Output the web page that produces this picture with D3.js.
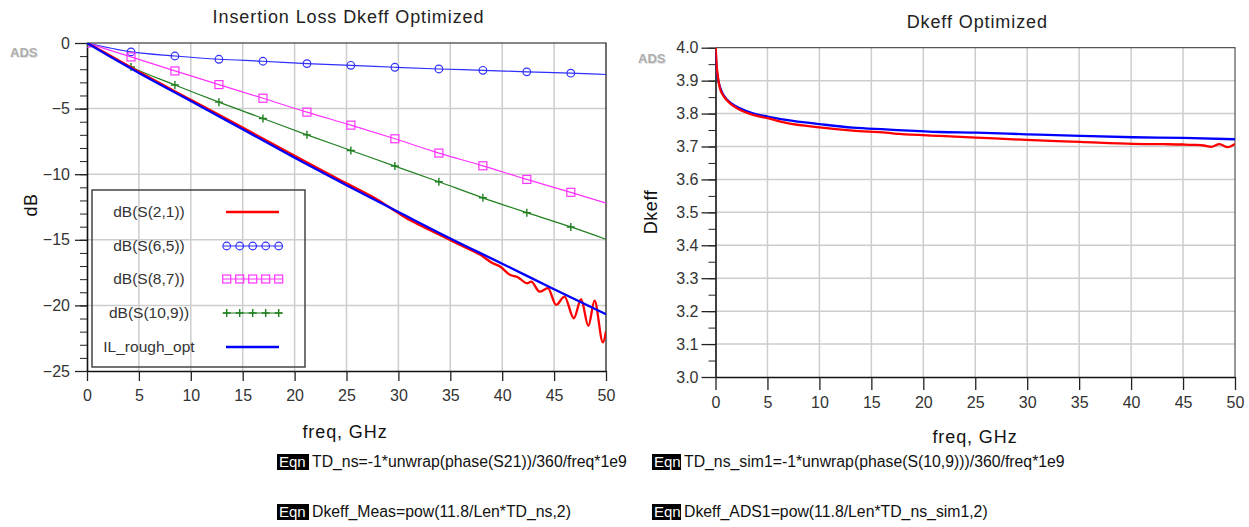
<!DOCTYPE html>
<html>
<head>
<meta charset="utf-8">
<script src="https://d3js.org/d3.v7.min.js"></script>
<style>
  body { margin: 0; background: #fff; }
  text { font-family: "Liberation Sans", Arial, sans-serif; }
</style>
</head>
<body>
<script>
// ---- values ----
// marker series (ADS draws a marker every ~4.24 GHz)
var markFreq = [0, 4.24, 8.47, 12.71, 16.95, 21.19, 25.42, 29.66, 33.9, 38.14, 42.37, 46.61, 50];
var s65  = [0, -0.68, -0.99, -1.24, -1.39, -1.57, -1.70, -1.85, -1.98, -2.08, -2.20, -2.30, -2.40];
var s87  = [0, -1.06, -2.13, -3.17, -4.21, -5.27, -6.26, -7.30, -8.39, -9.36, -10.40, -11.38, -12.20];
var s109 = [0, -1.83, -3.20, -4.51, -5.75, -7.00, -8.19, -9.38, -10.58, -11.80, -12.93, -14.02, -14.96];

// measured dB(S(2,1))
var s21Freq = [0, 2, 5, 10, 15, 20, 25, 28, 29.8, 31.1, 32.7, 34.0, 35.3, 36.3, 37.9, 39.1, 39.8,
               40.75, 41.5, 42.4, 42.8, 43.6, 44.4, 45.2, 46.0, 46.9, 47.6, 48.3, 48.9, 49.7, 50];
var s21 = [0, -0.85, -2.2, -4.33, -6.45, -8.6, -10.7, -11.95, -12.86, -13.5, -14.13, -14.63, -15.14, -15.52,
           -16.15, -16.79, -17.04, -17.67, -17.85, -18.31, -18.19, -18.95, -18.69, -19.96, -19.33, -20.98,
           -19.53, -21.56, -19.63, -22.82, -21.98];

// IL_rough_opt
var ilFreq = [0, 2.5, 5, 10, 15, 20, 25, 30, 35, 40, 45, 50];
var ilRough = [0, -1.17, -2.28, -4.42, -6.58, -8.74, -10.84, -12.88, -14.9, -16.82, -18.77, -20.67];

// Dkeff (right chart)
var dkMeasFreq = [0, 0.1, 0.2, 0.4, 0.8, 1.4, 2.3, 3.6, 5, 6.8, 10, 13.2, 16.4, 17.7, 21.6, 25.1, 29.9,
                  35.1, 40.2, 43.1, 45, 46, 47, 47.7, 48.5, 49.3, 50];
var dkMeas = [4.02, 3.95, 3.92, 3.88, 3.852, 3.831, 3.812, 3.796, 3.786, 3.772, 3.758, 3.748, 3.742, 3.738,
              3.732, 3.727, 3.72, 3.714, 3.708, 3.707, 3.706, 3.705, 3.703, 3.699, 3.707, 3.698, 3.708];
var dkAdsFreq = [0.02, 0.1, 0.2, 0.41, 0.7, 1.05, 1.6, 2.35, 3.6, 5, 6.8, 10, 13.2, 16.4, 21.6, 25.1, 29.9,
                 35.1, 40.2, 45, 50];
var dkAds = [3.99, 3.94, 3.912, 3.883, 3.86, 3.844, 3.829, 3.816, 3.801, 3.791, 3.781, 3.768, 3.757, 3.752,
             3.744, 3.742, 3.737, 3.732, 3.728, 3.726, 3.722];

var legendNames = ["dB(S(2,1))", "dB(S(6,5))", "dB(S(8,7))", "dB(S(10,9))", "IL_rough_opt"];
var eqLeft = ["TD_ns=-1*unwrap(phase(S21))/360/freq*1e9", "Dkeff_Meas=pow(11.8/Len*TD_ns,2)"];
var eqRight = ["TD_ns_sim1=-1*unwrap(phase(S(10,9)))/360/freq*1e9", "Dkeff_ADS1=pow(11.8/Len*TD_ns_sim1,2)"];

var zip = function (xs, ys) { return xs.map(function (x, i) { return [x, ys[i]]; }); };

var svg = d3.select("body").append("svg")
    .attr("width", 1249).attr("height", 527);

var gridColor = "#cdcdcd";

function frame(x, y, opt) {
  var g = svg.append("g");
  var x0 = x.range()[0], x1 = x.range()[1], y0 = y.range()[1], y1 = y.range()[0];

  g.append("clipPath").attr("id", opt.id)
    .append("rect").attr("x", x0).attr("y", y0).attr("width", x1 - x0).attr("height", y1 - y0);

  // grid
  g.selectAll(".vg").data(d3.range(5, 50, 5)).enter().append("line")
    .attr("x1", function (d) { return x(d); }).attr("x2", function (d) { return x(d); })
    .attr("y1", y0).attr("y2", y1)
    .style("stroke", gridColor).style("stroke-width", 1.5);
  g.selectAll(".hg").data(opt.major.slice(1, -1)).enter().append("line")
    .attr("x1", x0).attr("x2", x1)
    .attr("y1", function (d) { return y(d); }).attr("y2", function (d) { return y(d); })
    .style("stroke", gridColor).style("stroke-width", 1.5);

  // top and right border
  g.append("path")
    .attr("d", "M" + x0 + "," + y0 + "H" + x1 + "V" + y1)
    .style("fill", "none").style("stroke", opt.border).style("stroke-width", 1.2);

  // minor ticks on y
  g.append("g").attr("transform", "translate(" + x0 + ",0)")
    .call(d3.axisLeft(y).tickValues(opt.minor).tickSize(opt.minorLen).tickFormat("").tickSizeOuter(0))
    .call(function (a) { a.select(".domain").remove(); a.selectAll("line").style("stroke", "#222"); });

  // major y axis
  var ya = g.append("g").attr("transform", "translate(" + x0 + ",0)")
    .call(d3.axisLeft(y).tickValues(opt.major).tickSize(opt.majorLen).tickPadding(opt.yPad)
      .tickFormat(opt.fmt).tickSizeOuter(0));
  ya.select(".domain").style("stroke", "#111").style("stroke-width", 1.6);
  ya.selectAll("line").style("stroke", "#222").style("stroke-width", 1.3);
  ya.selectAll("text").style("font-size", "16px").style("fill", "#333")
    .style("font-family", "'Liberation Sans', Arial, sans-serif");

  // x axis
  var xa = g.append("g").attr("transform", "translate(0," + y1 + ")")
    .call(d3.axisBottom(x).tickValues(d3.range(0, 51, 5)).tickSize(opt.xTick).tickPadding(opt.xPad)
      .tickSizeOuter(0));
  xa.select(".domain").style("stroke", "#111").style("stroke-width", 1.6);
  xa.selectAll("line").style("stroke", "#222").style("stroke-width", 1.3);
  xa.selectAll("text").style("font-size", "16px").style("fill", "#333")
    .style("font-family", "'Liberation Sans', Arial, sans-serif");

  // titles
  svg.append("text").attr("x", (x0 + x1) / 2 + 2).attr("y", opt.titleY)
    .attr("text-anchor", "middle").style("font-size", "18px").style("letter-spacing", "0.9px")
    .style("fill", "#222").text(opt.title);
  svg.append("text").attr("x", opt.xlabX).attr("y", opt.xlabY)
    .attr("text-anchor", "middle").style("font-size", "18px").style("letter-spacing", "0.9px")
    .style("fill", "#111").text("freq, GHz");
  svg.append("text").attr("transform", "translate(" + opt.ylabX + "," + opt.ylabY + ") rotate(-90)")
    .attr("text-anchor", "middle").attr("dy", "0.35em")
    .style("font-size", "18px").style("letter-spacing", "0.6px").style("fill", "#111").text(opt.ylab);

  // ADS watermark
  svg.append("text").attr("x", opt.adsX + 1).attr("y", opt.adsY + 1)
    .style("font-size", "13px").style("font-weight", "bold").style("fill", "#e2e2e2").text("ADS");
  svg.append("text").attr("x", opt.adsX).attr("y", opt.adsY)
    .style("font-size", "13px").style("font-weight", "bold").style("fill", "#adadad").text("ADS");

  return g.append("g").attr("clip-path", "url(#" + opt.id + ")");
}

// ---------------- left chart ----------------
var xL = d3.scaleLinear().domain([0, 50]).range([87, 606]);
var yL = d3.scaleLinear().domain([-25, 0]).range([371, 43]);

var plotL = frame(xL, yL, {
  id: "clipL", border: "#111", major: d3.range(-25, 1, 5), minor: d3.range(-25, 1, 1),
  majorLen: 12, minorLen: 7, yPad: 5, fmt: d3.format("d"), xTick: 10, xPad: 9,
  title: "Insertion Loss Dkeff Optimized", titleY: 23,
  xlabX: 345, xlabY: 438, ylab: "dB", ylabX: 31, ylabY: 205, adsX: 10, adsY: 57
});

var smoothL = d3.line().curve(d3.curveMonotoneX)
  .x(function (d) { return xL(d[0]); }).y(function (d) { return yL(d[1]); });

var markerSeries = [
  { vals: s65, color: "#2f2fff", kind: "circle" },
  { vals: s87, color: "#ff33ff", kind: "square" },
  { vals: s109, color: "#1f7f1f", kind: "plus" }
];

function drawMarker(g, kind, color, cx, cy) {
  if (kind === "circle") {
    g.append("circle").attr("cx", cx).attr("cy", cy).attr("r", 3.8)
      .style("fill", "none").style("stroke", color).style("stroke-width", 1.2);
  } else if (kind === "square") {
    g.append("rect").attr("x", cx - 4).attr("y", cy - 4).attr("width", 8).attr("height", 8)
      .style("fill", "none").style("stroke", color).style("stroke-width", 1.2);
  } else {
    g.append("path").attr("d", "M" + (cx - 4) + "," + cy + "h8M" + cx + "," + (cy - 4) + "v8")
      .style("fill", "none").style("stroke", color).style("stroke-width", 1.4);
  }
}

markerSeries.forEach(function (s) {
  var pts = zip(markFreq, s.vals);
  plotL.append("path").datum(pts).attr("d", smoothL)
    .style("fill", "none").style("stroke", s.color).style("stroke-width", 1.2);
  pts.slice(0, -1).forEach(function (p) {
    drawMarker(plotL, s.kind, s.color, xL(p[0]), yL(p[1]));
  });
});

plotL.append("path").datum(zip(s21Freq, s21)).attr("d", smoothL)
  .style("fill", "none").style("stroke", "#ff0000").style("stroke-width", 2.3);
plotL.append("path").datum(zip(ilFreq, ilRough)).attr("d", smoothL)
  .style("fill", "none").style("stroke", "#0000ff").style("stroke-width", 2.3);

// legend
var leg = svg.append("g");
leg.append("rect").attr("x", 92).attr("y", 190).attr("width", 213).attr("height", 177)
  .style("fill", "none").style("stroke", "#444").style("stroke-width", 1.5);
var legY = [212, 246, 279, 313, 347];
var legStyle = [
  { color: "#ff0000", kind: null },
  { color: "#2f2fff", kind: "circle" },
  { color: "#ff33ff", kind: "square" },
  { color: "#1f7f1f", kind: "plus" },
  { color: "#0000ff", kind: null }
];
legendNames.forEach(function (name, i) {
  var st = legStyle[i], yy = legY[i];
  leg.append("text").attr("x", 149).attr("y", yy).attr("dy", "0.35em").attr("text-anchor", "middle")
    .style("font-size", "15.5px").style("fill", "#333").text(name);
  if (st.kind) {
    leg.append("line").attr("x1", 223).attr("x2", 282).attr("y1", yy).attr("y2", yy)
      .style("stroke", st.color).style("stroke-width", 1.2);
    d3.range(5).forEach(function (k) { drawMarker(leg, st.kind, st.color, 226.7 + k * 13, yy); });
  } else {
    leg.append("line").attr("x1", 226).attr("x2", 279).attr("y1", yy).attr("y2", yy)
      .style("stroke", st.color).style("stroke-width", 2.3);
  }
});

// ---------------- right chart ----------------
var xR = d3.scaleLinear().domain([0, 50]).range([715.5, 1235]);
var yR = d3.scaleLinear().domain([3, 4]).range([377, 47.7]);

var plotR = frame(xR, yR, {
  id: "clipR", border: "#555", major: d3.range(30, 41, 1).map(function (d) { return d / 10; }),
  minor: d3.range(60, 81, 1).map(function (d) { return d / 20; }),
  majorLen: 14, minorLen: 7, yPad: 3, fmt: d3.format(".1f"), xTick: 13, xPad: 7,
  title: "Dkeff Optimized", titleY: 28,
  xlabX: 975, xlabY: 443, ylab: "Dkeff", ylabX: 651, ylabY: 212, adsX: 638, adsY: 63
});

var lineR = d3.line().curve(d3.curveMonotoneX)
  .x(function (d) { return xR(d[0]); }).y(function (d) { return yR(d[1]); });

plotR.append("path").datum(zip(dkAdsFreq, dkAds)).attr("d", lineR)
  .style("fill", "none").style("stroke", "#0000ff").style("stroke-width", 2.3);
plotR.append("path").datum(zip(dkMeasFreq, dkMeas)).attr("d", lineR)
  .style("fill", "none").style("stroke", "#ff0000").style("stroke-width", 2.3);

// ---------------- equations ----------------
function eqn(x, y, boxW, txt) {
  svg.append("rect").attr("x", x).attr("y", y - 12).attr("width", boxW).attr("height", 16)
    .style("fill", "#000");
  svg.append("text").attr("x", x + 2).attr("y", y + 1).style("font-size", "15px")
    .style("fill", "#fff").text("Eqn");
  svg.append("text").attr("x", x + boxW + 3).attr("y", y + 1).style("font-size", "15.8px")
    .style("fill", "#111").text(txt);
}
eqn(277, 466, 32, eqLeft[0]);
eqn(277, 516, 32, eqLeft[1]);
eqn(652, 466, 29, eqRight[0]);
eqn(652, 516, 29, eqRight[1]);
</script>
</body>
</html>
